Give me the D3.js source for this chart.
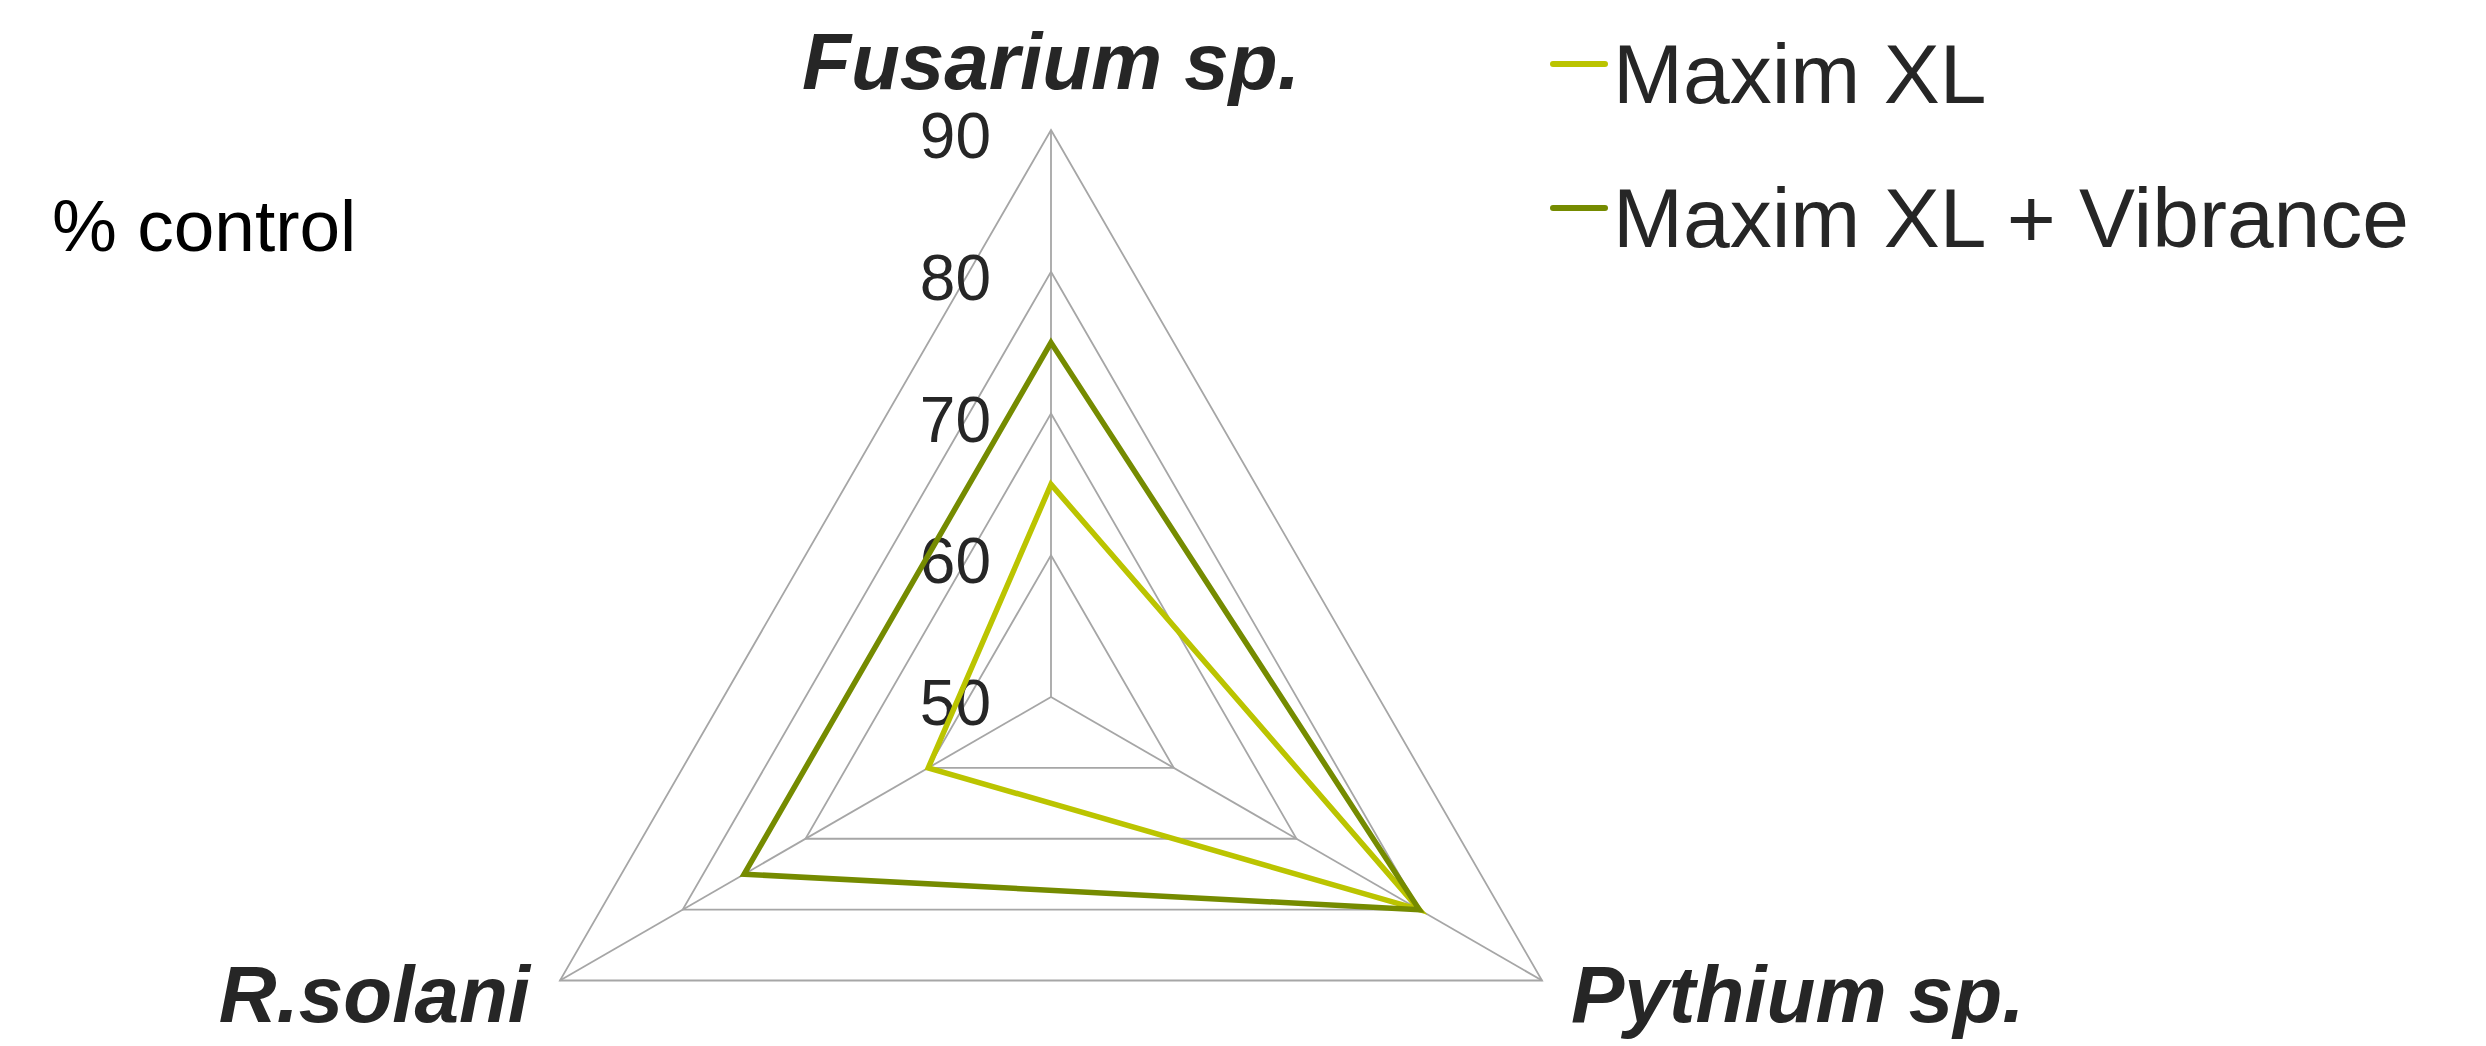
<!DOCTYPE html>
<html>
<head>
<meta charset="utf-8">
<script src="https://cdn.jsdelivr.net/npm/d3@7"></script>
<style>
  body { margin: 0; background: #fff; }
  text { font-family: "Liberation Sans", Arial, sans-serif; }
</style>
</head>
<body>
<div id="radar"></div>
<script>
/* data */
var axes = ["Fusarium sp.", "Pythium sp.", "R.solani"];
var seriesNames = ["Maxim XL", "Maxim XL + Vibrance"];
var maximXL = [65, 80, 60];
var maximVibrance = [75, 80, 75];
var ticks = [50, 60, 70, 80, 90];

var width = 2486,
    height = 1046,
    cx = 1051,
    cy = 697,
    radius = 567;

var colors = ["#bbc400", "#758b00"];
var series = [maximXL, maximVibrance];

var r = d3.scaleLinear()
    .domain([50, 90])
    .range([0, radius]);

var angle = d3.scaleBand()
    .domain(axes)
    .range([0, 2 * Math.PI]);

function point(axis, v) {
    var a = angle(axis);
    return [r(v) * Math.sin(a), -r(v) * Math.cos(a)];
}

var svg = d3.select("#radar")
    .append("svg")
    .attr("width", width)
    .attr("height", height);

var chart = svg.append("g")
    .attr("transform", "translate(" + cx + "," + cy + ")");

var line = d3.line();

/* grid rings */
chart.append("g")
    .selectAll("path")
    .data(ticks.slice(1))
    .enter().append("path")
        .attr("d", function(t) { return line(axes.map(function(a) { return point(a, t); })) + "Z"; })
        .attr("fill", "none")
        .attr("stroke", "#a6a6a6")
        .attr("stroke-width", 1.8);

/* spokes */
chart.append("g")
    .selectAll("line")
    .data(axes)
    .enter().append("line")
        .attr("x1", 0)
        .attr("y1", 0)
        .attr("x2", function(a) { return point(a, 90)[0]; })
        .attr("y2", function(a) { return point(a, 90)[1]; })
        .attr("stroke", "#a6a6a6")
        .attr("stroke-width", 1.8);

/* tick labels on the top spoke */
chart.append("g")
    .selectAll("text")
    .data(ticks)
    .enter().append("text")
        .attr("x", -60)
        .attr("y", function(t) { return -r(t) + 28; })
        .attr("text-anchor", "end")
        .attr("font-size", 64)
        .attr("fill", "#262626")
        .text(function(t) { return t; });

/* series */
chart.append("g")
    .selectAll("path")
    .data(series)
    .enter().append("path")
        .attr("d", function(s) { return line(axes.map(function(a, i) { return point(a, s[i]); })) + "Z"; })
        .attr("fill", "none")
        .attr("stroke", function(s, i) { return colors[i]; })
        .attr("stroke-width", 5.5)
        .attr("stroke-linejoin", "miter");

/* axis names */
var labelPos = {
    "Fusarium sp.": { x: 0, y: 89 - cy, anchor: "middle" },
    "Pythium sp.": { x: 1571 - cx, y: 1022 - cy, anchor: "start" },
    "R.solani": { x: 530 - cx, y: 1022 - cy, anchor: "end" }
};

chart.append("g")
    .selectAll("text")
    .data(axes)
    .enter().append("text")
        .attr("x", function(a) { return labelPos[a].x; })
        .attr("y", function(a) { return labelPos[a].y; })
        .attr("text-anchor", function(a) { return labelPos[a].anchor; })
        .attr("font-size", 80)
        .attr("font-weight", "bold")
        .attr("font-style", "italic")
        .attr("fill", "#262626")
        .text(function(a) { return a; });

/* unit label */
svg.append("text")
    .attr("x", 52)
    .attr("y", 251)
    .attr("font-size", 73)
    .attr("fill", "#000")
    .text("% control");

/* legend */
var legend = svg.append("g")
    .selectAll("g")
    .data(seriesNames)
    .enter().append("g")
        .attr("transform", function(d, i) { return "translate(1553," + (64 + i * 144) + ")"; });

legend.append("line")
    .attr("x1", 0)
    .attr("x2", 52)
    .attr("y1", 0)
    .attr("y2", 0)
    .attr("stroke", function(d, i) { return colors[i]; })
    .attr("stroke-width", 6)
    .attr("stroke-linecap", "round");

legend.append("text")
    .attr("x", 60)
    .attr("y", 39)
    .attr("font-size", 84)
    .attr("fill", "#262626")
    .text(function(d) { return d; });
</script>
</body>
</html>
